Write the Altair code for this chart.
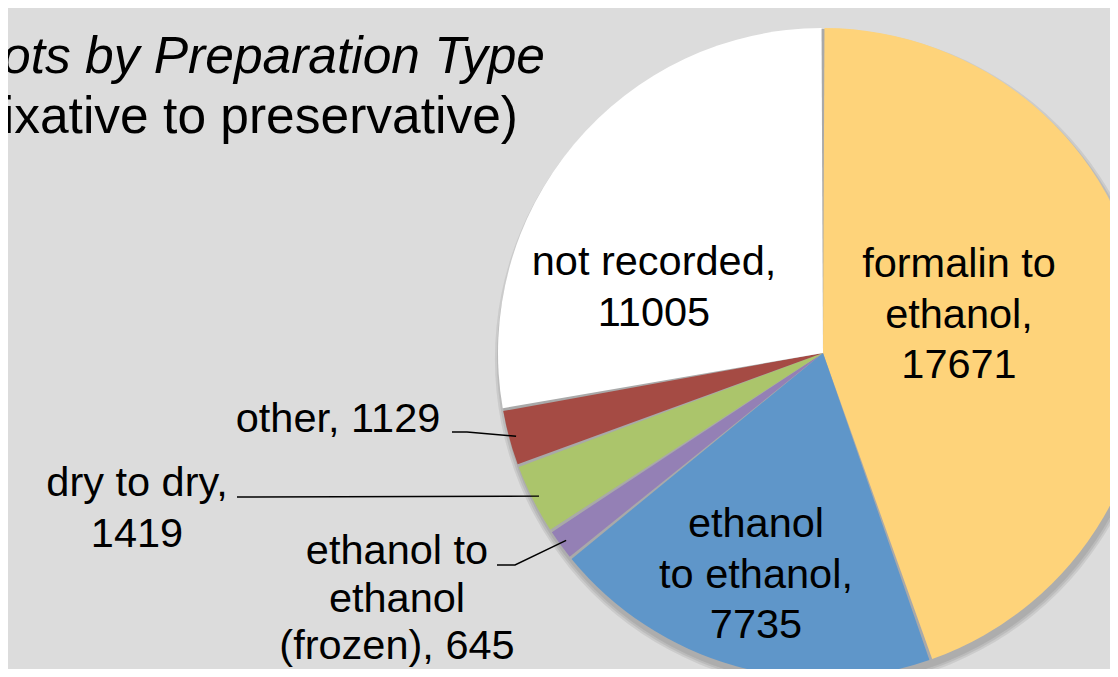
import math
import altair as alt
import pandas as pd

# ---------------- data ----------------
categories = ["formalin to ethanol", "ethanol to ethanol",
              "ethanol to ethanol (frozen)", "dry to dry", "other", "not recorded"]
values = [17671, 7735, 645, 1419, 1129, 11005]
colors = ["#FED37A", "#5F96C9", "#9480B5", "#ABC56B", "#A54B44", "#FFFFFF"]
# how each label is broken into lines ("{v}" is the value)
label_templates = ["formalin to\nethanol,\n{v}", "ethanol\nto ethanol,\n{v}",
                   "ethanol to\nethanol\n(frozen), {v}", "dry to dry,\n{v}",
                   "other, {v}", "not recorded,\n{v}"]
title_lines = ["Lots by Preparation Type", "(fixative to preservative)"]

# ---------------- layout ----------------
W, H = 1102, 661
CX, CY, R = 815, 345, 325
FONT = "Liberation Sans"
FS = 41.5
LH = 50.5
LH_TIGHT = 47.5
TFS = 51.5
# label anchor (center x, first baseline y) in chart pixels
label_pos = {
    "formalin to ethanol": (951, 269),
    "ethanol to ethanol": (748, 529),
    "ethanol to ethanol (frozen)": (389, 556),
    "dry to dry": (129, 488),
    "other": (330, 424),
    "not recorded": (646, 267),
}
tight = ["ethanol to ethanol (frozen)"]
# leader start points near the labels (chart pixels)
leader_start = {
    "other": [(444, 424), (459, 424)],
    "dry to dry": [(229, 489)],
    "ethanol to ethanol (frozen)": [(489, 557), (507, 557)],
}
LEADER_R = 318

pie_df = pd.DataFrame({
    "category": categories,
    "value": values,
    "order": list(range(len(categories))),
})

lab_df = pd.DataFrame({
    "category": categories,
    "label": [t.format(v=v) for t, v in zip(label_templates, values)],
    "x": [label_pos[c][0] for c in categories],
    "y": [label_pos[c][1] for c in categories],
    "tight": [c in tight for c in categories],
})

# leader lines: end at the mid-angle of each slice
total = sum(values)
cum = 0
mid = {}
for c, v in zip(categories, values):
    mid[c] = (cum + v / 2) / total * 2 * math.pi
    cum += v
rows = []
for c, pts in leader_start.items():
    a = mid[c]
    allpts = pts + [(CX + LEADER_R * math.sin(a), CY - LEADER_R * math.cos(a))]
    for i, (px, py) in enumerate(allpts):
        rows.append({"category": c, "i": i, "x": px, "y": py})
lead_df = pd.DataFrame(rows)

one = pd.DataFrame({"a": [1]})

shadows = [
    alt.Chart(one).mark_arc(theta=0, theta2=2 * math.pi, radius=r,
                            color="black", opacity=0.075)
    .encode(x=alt.value(CX + 2), y=alt.value(CY + 6))
    for r in (326, 328, 330)
]

# grey disc that shows through the gaps between the slices
disc = alt.Chart(one).mark_arc(theta=0, theta2=2 * math.pi, radius=R - 1,
                               color="#A9A9A9").encode(
    x=alt.value(CX), y=alt.value(CY))

pie = alt.Chart(pie_df).mark_arc(radius=R, padAngle=0.009).encode(
    theta=alt.Theta("value:Q", stack=True),
    order=alt.Order("order:Q"),
    color=alt.Color("category:N", scale=alt.Scale(domain=categories, range=colors),
                    legend=None),
    x=alt.value(CX),
    y=alt.value(CY),
)


def label_layer(is_tight):
    return alt.Chart(lab_df[lab_df["tight"] == is_tight]).mark_text(
        font=FONT, fontSize=FS, lineHeight=LH_TIGHT if is_tight else LH,
        lineBreak="\n", align="center", baseline="alphabetic", color="black",
    ).encode(
        x=alt.X("x:Q", scale=None),
        y=alt.Y("y:Q", scale=None),
        text="label:N",
    )


leaders = alt.Chart(lead_df).mark_line(color="black", strokeWidth=1.4).encode(
    x=alt.X("x:Q", scale=None),
    y=alt.Y("y:Q", scale=None),
    detail="category:N",
    order="i:Q",
)

title1 = alt.Chart(one).mark_text(
    text=title_lines[0], font=FONT, fontSize=TFS, fontStyle="italic",
    align="right", baseline="alphabetic", color="black",
).encode(x=alt.value(537), y=alt.value(65))

title2 = alt.Chart(one).mark_text(
    text=title_lines[1], font=FONT, fontSize=TFS,
    align="right", baseline="alphabetic", color="black",
).encode(x=alt.value(510), y=alt.value(125))

chart = alt.layer(*shadows, disc, pie, label_layer(False), label_layer(True),
                  leaders, title1, title2).properties(
    width=W, height=H, padding=0, background="#DCDCDC",
    autosize=alt.AutoSizeParams(type="none"),
).configure_view(stroke=None)

chart.save("out.html", embed_options={"renderer": "svg", "actions": False})
